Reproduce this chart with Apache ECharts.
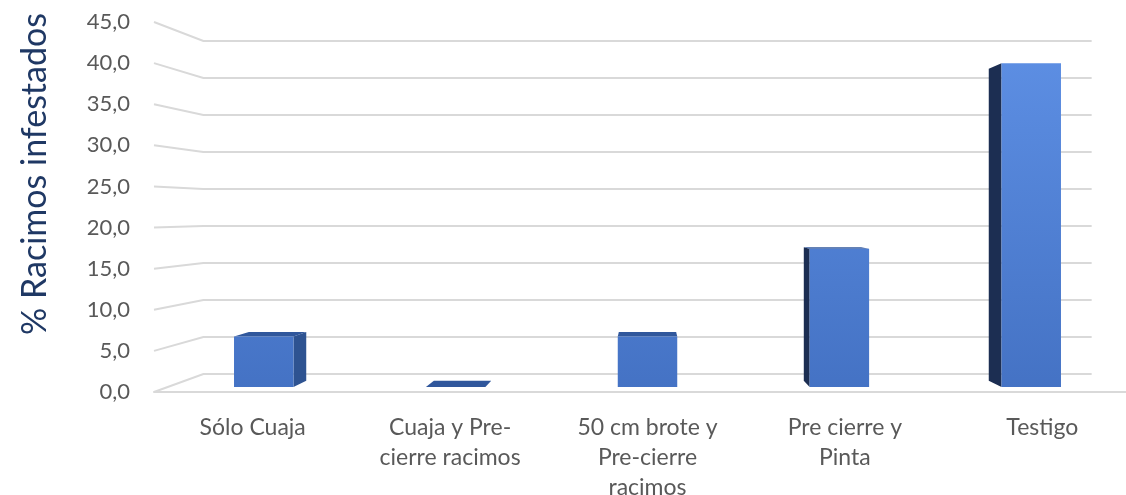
<!DOCTYPE html>
<html><head><meta charset="utf-8">
<script src="https://cdn.jsdelivr.net/npm/echarts@6/dist/echarts.min.js"></script>
<style>html,body{margin:0;padding:0;background:#fff;overflow:hidden}#c{width:1126px;height:495px}</style>
</head><body><div id="c"></div>
<script>
const categories = ['Sólo Cuaja', 'Cuaja y Pre-\ncierre racimos', '50 cm brote y\nPre-cierre\nracimos', 'Pre cierre y\nPinta', 'Testigo'];
const values = [6.3, 0.0, 6.3, 17.3, 40.5];
const yTicks = [0, 5, 10, 15, 20, 25, 30, 35, 40, 45];
const yTitle = '% Racimos infestados';

const FONT = 'Lato, "Open Sans", sans-serif';
const EYE_VALUE = 21.9;      // eye level (axis units) for the perspective
const K_WALL = 0.9, K_FRONT = 0.972, K_BACK = 0.937, BAR_W = 0.31;

function vanish(params, api) {
  const cs = params.coordSys;
  return [cs.x + cs.width / 2, api.coord([0, EYE_VALUE])[1]];
}
function proj(p, v, k) { return [v[0] + (p[0] - v[0]) * k, v[1] + (p[1] - v[1]) * k]; }

const chart = echarts.init(document.getElementById('c'));
chart.setOption({
  animation: false,
  backgroundColor: '#ffffff',
  grid: { left: 154, top: 22, width: 987, height: 370, containLabel: false, outerBoundsMode: 'none' },
  xAxis: {
    type: 'category', data: categories,
    axisLine: { show: true, lineStyle: { color: '#D9D9D9', width: 2 } },
    axisTick: { show: false },
    splitLine: { show: false },
    axisLabel: { color: '#595959', fontSize: 23, lineHeight: 30, margin: 21, fontFamily: FONT, interval: 0 }
  },
  yAxis: {
    type: 'value', min: 0, max: 45, interval: 5,
    axisLine: { show: false }, axisTick: { show: false }, splitLine: { show: false },
    axisLabel: { color: '#595959', fontSize: 22, margin: 24, fontFamily: FONT,
      formatter: v => v.toFixed(1).replace('.', ',') },
    name: yTitle, nameLocation: 'middle', nameRotate: 90, nameGap: 102,
    nameTextStyle: { color: '#1F3864', fontSize: 34, fontFamily: FONT, padding: [0, 0, 0, 66] }
  },
  series: [
    {
      type: 'custom', silent: true, z: 1,
      data: yTicks.map(t => [0, t]),
      encode: { x: 0, y: 1 },
      renderItem: function (params, api) {
        const cs = params.coordSys; const v = vanish(params, api);
        const y = api.coord([0, api.value(1)])[1];
        const fl = [cs.x, y], fr = [cs.x + cs.width, y];
        const bl = proj(fl, v, K_WALL), br = proj(fr, v, K_WALL);
        return { type: 'polyline', shape: { points: [fl, bl, br] },
          style: { stroke: '#D9D9D9', lineWidth: 2, fill: null } };
      }
    },
    {
      type: 'custom', z: 3,
      data: values.map((val, i) => [i, val]),
      encode: { x: 0, y: 1 },
      renderItem: function (params, api) {
        const cs = params.coordSys; const v = vanish(params, api);
        const i = api.value(0), val = api.value(1);
        const base = api.coord([i, 0]), top = api.coord([i, val]);
        const w = api.size([1, 0])[0] * BAR_W;
        const x0 = base[0] - w / 2, x1 = base[0] + w / 2, yb = base[1], yt = top[1];
        const F = (x, y) => proj([x, y], v, K_FRONT), B = (x, y) => proj([x, y], v, K_BACK);
        const kids = [];
        if (F(x1, yt)[0] < v[0]) kids.push({ type: 'polygon',
          shape: { points: [F(x1, yt), B(x1, yt), B(x1, yb), F(x1, yb)] }, style: { fill: '#2E5391' } });
        if (F(x0, yt)[0] > v[0]) kids.push({ type: 'polygon',
          shape: { points: [F(x0, yt), B(x0, yt), B(x0, yb), F(x0, yb)] }, style: { fill: '#1C2E52' } });
        if (yt > v[1]) kids.push({ type: 'polygon',
          shape: { points: [F(x0, yt), F(x1, yt), B(x1, yt), B(x0, yt)] }, style: { fill: '#30579C' } });
        if (yb - yt > 0.5) kids.push({ type: 'polygon',
          shape: { points: [F(x0, yt), F(x1, yt), F(x1, yb), F(x0, yb)] },
          style: { fill: { type: 'linear', global: true, x: 0, y: cs.y, x2: 0, y2: cs.y + cs.height,
            colorStops: [{ offset: 0, color: '#5F91E6' }, { offset: 1, color: '#4472C4' }] } } });
        return { type: 'group', children: kids };
      }
    }
  ]
});
</script></body></html>
